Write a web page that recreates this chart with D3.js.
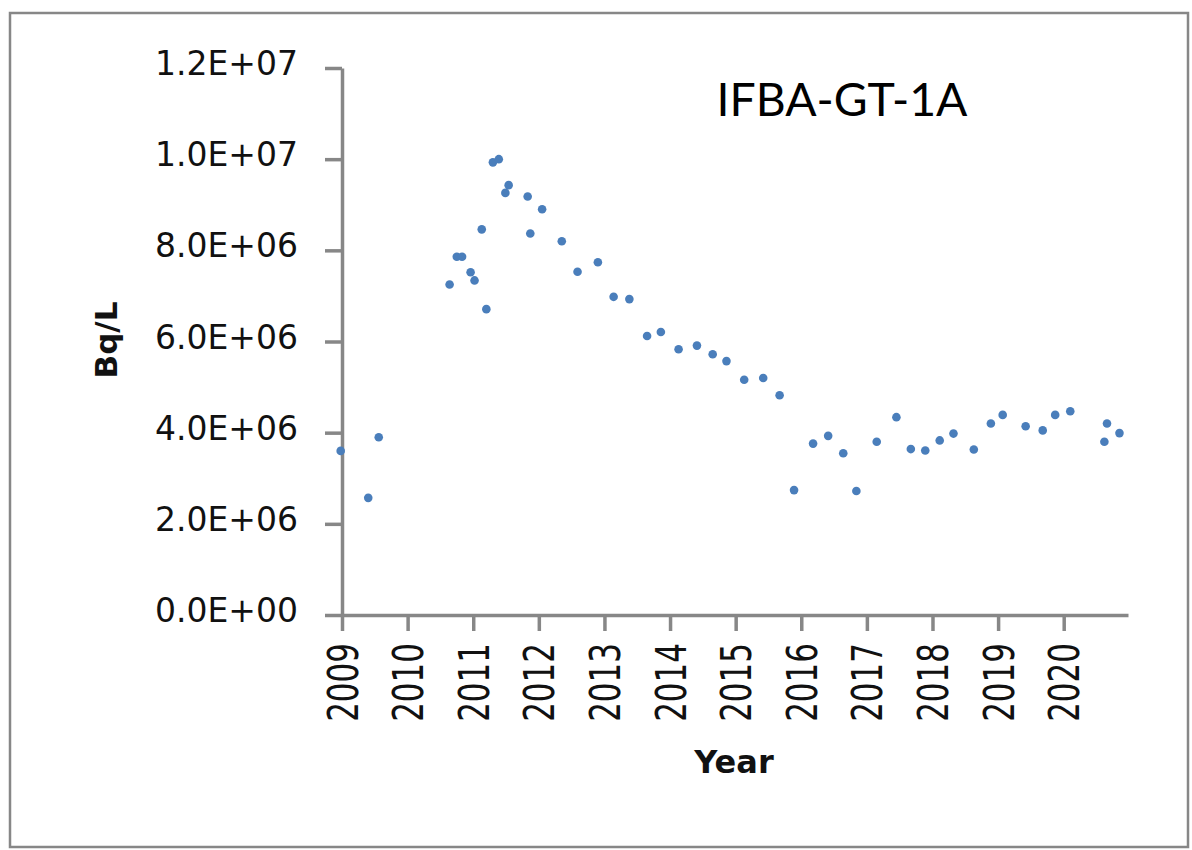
<!DOCTYPE html>
<html>
<head>
<meta charset="utf-8">
<script src="https://cdn.jsdelivr.net/npm/d3@7"></script>
<style>
  body { margin: 0; background: #fff; }
</style>
</head>
<body>
<svg id="chart" width="1192" height="850"></svg>
<script>
// Dati: anno del campione (decimale) e attività (Bq/L)
var sampleYear = [
  2008.98, 2009.40, 2009.56, 2010.64, 2010.75, 2010.83, 2010.96, 2011.02, 2011.13, 2011.20,
  2011.30, 2011.39, 2011.49, 2011.54, 2011.83, 2011.87, 2012.05, 2012.35, 2012.59, 2012.90,
  2013.14, 2013.38, 2013.65, 2013.86, 2014.13, 2014.41, 2014.65, 2014.86, 2015.13, 2015.42,
  2015.67, 2015.89, 2016.18, 2016.41, 2016.64, 2016.84, 2017.15, 2017.45, 2017.67, 2017.89,
  2018.11, 2018.32, 2018.63, 2018.89, 2019.07, 2019.42, 2019.68, 2019.87, 2020.10, 2020.62,
  2020.66, 2020.85
];
var activity = [
  3.60e6, 2.57e6, 3.90e6, 7.25e6, 7.86e6, 7.86e6, 7.52e6, 7.34e6, 8.46e6, 6.71e6,
  9.93e6, 1.00e7, 9.26e6, 9.43e6, 9.18e6, 8.37e6, 8.90e6, 8.20e6, 7.53e6, 7.74e6,
  6.98e6, 6.93e6, 6.12e6, 6.21e6, 5.83e6, 5.91e6, 5.72e6, 5.57e6, 5.16e6, 5.20e6,
  4.82e6, 2.74e6, 3.76e6, 3.93e6, 3.55e6, 2.72e6, 3.80e6, 4.34e6, 3.64e6, 3.61e6,
  3.83e6, 3.98e6, 3.63e6, 4.20e6, 4.39e6, 4.14e6, 4.05e6, 4.39e6, 4.47e6, 3.80e6,
  4.20e6, 3.99e6
];
var yearTicks = [2009, 2010, 2011, 2012, 2013, 2014, 2015, 2016, 2017, 2018, 2019, 2020];
var valueTicks = [0, 2e6, 4e6, 6e6, 8e6, 1e7, 1.2e7];
var chartTitle = "IFBA-GT-1A";

var data = sampleYear.map(function(y, i) { return {year: y, value: activity[i]}; });

var svg = d3.select("#chart");
var axisColor = "#878787";

// Cornice esterna
svg.append("rect")
  .attr("x", 10).attr("y", 13)
  .attr("width", 1178).attr("height", 834)
  .attr("fill", "none")
  .attr("stroke", axisColor)
  .attr("stroke-width", 2.5);

// Scale
var xScale = d3.scaleLinear().domain([2009, 2020.98]).range([342, 1128]);
var yScale = d3.scaleLinear().domain([0, 1.2e7]).range([615, 68]);

// Formato tipo Excel: 1.2E+07
function sciFormat(v) {
  var s = v.toExponential(1).split("e");
  var exp = Math.abs(+s[1]);
  return s[0] + "E" + (+s[1] < 0 ? "-" : "+") + (exp < 10 ? "0" : "") + exp;
}

// Asse Y
var yAxis = svg.append("g")
  .attr("transform", "translate(342,0)")
  .call(d3.axisLeft(yScale).tickValues(valueTicks).tickFormat(sciFormat)
    .tickSizeInner(17).tickSizeOuter(0).tickPadding(27));
yAxis.select(".domain").attr("stroke", axisColor).attr("stroke-width", 3.5);
yAxis.selectAll(".tick line").attr("stroke", axisColor).attr("stroke-width", 3.5);
yAxis.selectAll(".tick text")
  .attr("font-family", "DejaVu Sans, Verdana, sans-serif")
  .attr("font-size", 33)
  .attr("fill", "#111")
  .attr("dy", "0.2em");

// Asse X
var xAxis = svg.append("g")
  .attr("transform", "translate(0,615)")
  .call(d3.axisBottom(xScale).tickValues(yearTicks).tickFormat(d3.format("d"))
    .tickSizeInner(16).tickSizeOuter(0));
xAxis.select(".domain").attr("stroke", axisColor).attr("stroke-width", 3.5);
xAxis.selectAll(".tick line").attr("stroke", axisColor).attr("stroke-width", 3.5);
xAxis.selectAll(".tick text")
  .attr("font-family", "DejaVu Sans, Verdana, sans-serif")
  .attr("font-size", 31)
  .attr("fill", "#111")
  .attr("text-anchor", "end")
  .attr("x", 0).attr("y", 0)
  .attr("dy", "0.36em")
  .attr("transform", "translate(0,28) rotate(-90) scale(1,1.35)");

// Punti
svg.append("g").selectAll("circle")
  .data(data)
  .enter()
  .append("circle")
  .attr("cx", function(d) { return xScale(d.year); })
  .attr("cy", function(d) { return yScale(d.value); })
  .attr("r", 4.3)
  .attr("fill", "#4a7ebb");

// Titoli
svg.append("text")
  .attr("x", 842).attr("y", 116)
  .attr("text-anchor", "middle")
  .attr("font-family", "Lato, Noto Sans, sans-serif")
  .attr("font-size", 46)
  .attr("textLength", 251)
  .attr("lengthAdjust", "spacingAndGlyphs")
  .attr("fill", "#000")
  .text(chartTitle);

svg.append("text")
  .attr("x", 734).attr("y", 773)
  .attr("text-anchor", "middle")
  .attr("font-family", "DejaVu Sans, Verdana, sans-serif")
  .attr("font-weight", "bold")
  .attr("font-size", 32)
  .attr("fill", "#111")
  .text("Year");

svg.append("text")
  .attr("transform", "translate(117,340) rotate(-90)")
  .attr("text-anchor", "middle")
  .attr("font-family", "DejaVu Sans, Verdana, sans-serif")
  .attr("font-weight", "bold")
  .attr("font-size", 31)
  .attr("fill", "#111")
  .text("Bq/L");
</script>
</body>
</html>
